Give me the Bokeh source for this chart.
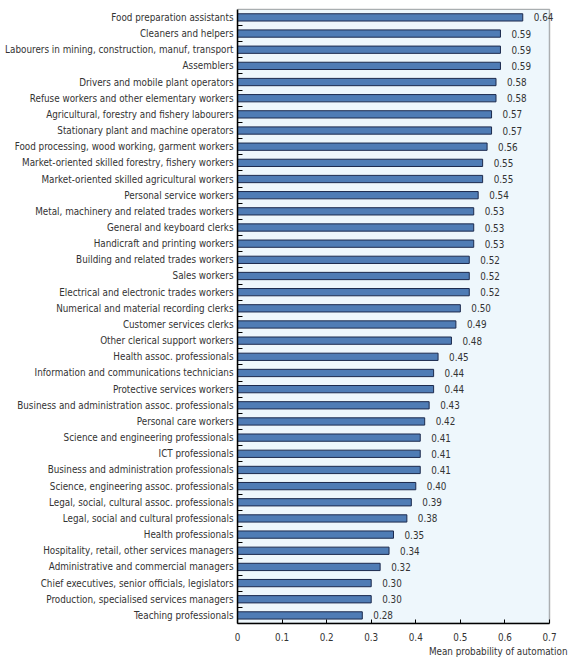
from bokeh.plotting import figure
from bokeh.models import ColumnDataSource, FixedTicker, Range1d, LabelSet, BoxAnnotation, Title
from bokeh.core.properties import value
from bokeh.embed import file_html
from bokeh.resources import INLINE

# occupations, top to bottom
occupations = [
    "Food preparation assistants",
    "Cleaners and helpers",
    "Labourers in mining, construction, manuf, transport",
    "Assemblers",
    "Drivers and mobile plant operators",
    "Refuse workers and other elementary workers",
    "Agricultural, forestry and fishery labourers",
    "Stationary plant and machine operators",
    "Food processing, wood working, garment workers",
    "Market-oriented skilled forestry, fishery workers",
    "Market-oriented skilled agricultural workers",
    "Personal service workers",
    "Metal, machinery and related trades workers",
    "General and keyboard clerks",
    "Handicraft and printing workers",
    "Building and related trades workers",
    "Sales workers",
    "Electrical and electronic trades workers",
    "Numerical and material recording clerks",
    "Customer services clerks",
    "Other clerical support workers",
    "Health assoc. professionals",
    "Information and communications technicians",
    "Protective services workers",
    "Business and administration assoc. professionals",
    "Personal care workers",
    "Science and engineering professionals",
    "ICT professionals",
    "Business and administration professionals",
    "Science, engineering assoc. professionals",
    "Legal, social, cultural assoc. professionals",
    "Legal, social and cultural professionals",
    "Health professionals",
    "Hospitality, retail, other services managers",
    "Administrative and commercial managers",
    "Chief executives, senior officials, legislators",
    "Production, specialised services managers",
    "Teaching professionals",
]

probability = [
    0.64, 0.59, 0.59, 0.59, 0.58, 0.58, 0.57, 0.57, 0.56, 0.55,
    0.55, 0.54, 0.53, 0.53, 0.53, 0.52, 0.52, 0.52, 0.50, 0.49,
    0.48, 0.45, 0.44, 0.44, 0.43, 0.42, 0.41, 0.41, 0.41, 0.40,
    0.39, 0.38, 0.35, 0.34, 0.32, 0.30, 0.30, 0.28,
]

x_ticks = [0, 0.1, 0.2, 0.3, 0.4, 0.5, 0.6, 0.7]
x_tick_labels = ["0", "0.1", "0.2", "0.3", "0.4", "0.5", "0.6", "0.7"]
x_max = 0.7

FONT = "DejaVu Sans Condensed"
TEXT = "#333333"
SIZE = "9.8px"

n = len(occupations)
ypos = [n - i - 0.5 for i in range(n)]

source = ColumnDataSource(dict(
    occ=occupations,
    val=probability,
    y=ypos,
    lab=["%.2f" % v for v in probability],
))

# the frame runs a little past 0.7 so that the value labels and the axis
# title can overhang the boxed area as in the original
p = figure(width=578, height=662, x_range=Range1d(0, 0.7404), y_range=Range1d(0, n + 0.05),
           output_backend="svg", toolbar_location=None,
           min_border_left=237, min_border_right=11, min_border_top=8, min_border_bottom=39)

p.background_fill_color = "white"
p.border_fill_color = "white"
p.outline_line_color = None
p.grid.visible = False

box = BoxAnnotation(left=0, right=x_max, bottom=0, top=n, fill_color="#eef7fc", fill_alpha=1,
                    line_color="black", line_width=1.5, level="underlay")
p.add_layout(box)

p.hbar(y="y", left=0, right="val", height=0.45, source=source,
       fill_color="#4f7cb5", line_color="#1c2a4d", line_width=1)

labels = LabelSet(x="val", y="y", text="lab", source=source, x_offset=11,
                  text_baseline="middle", text_font=value(FONT),
                  text_font_size=SIZE, text_color=TEXT)
p.add_layout(labels)

# y axis: names at bar centres, small ticks at the boundaries
p.yaxis.ticker = FixedTicker(ticks=ypos, minor_ticks=[float(k) for k in range(1, n)])
p.yaxis.major_label_overrides = {y: o for y, o in zip(ypos, occupations)}
p.yaxis.bounds = (0, n)
p.yaxis.major_tick_in = 0
p.yaxis.major_tick_out = 0
p.yaxis.minor_tick_in = 5
p.yaxis.minor_tick_out = 0
p.yaxis.minor_tick_line_color = "black"
p.yaxis.major_label_standoff = 4
p.yaxis.major_label_text_font = FONT
p.yaxis.major_label_text_font_size = SIZE
p.yaxis.major_label_text_color = TEXT
p.yaxis.axis_line_color = "black"
p.yaxis.axis_line_width = 1.5

# x axis
p.xaxis.ticker = FixedTicker(ticks=x_ticks, minor_ticks=[])
p.xaxis.major_label_overrides = {t: s for t, s in zip(x_ticks, x_tick_labels)}
p.xaxis.bounds = (0, x_max)
p.xaxis.major_tick_in = 4
p.xaxis.major_tick_out = 0
p.xaxis.major_tick_line_color = "black"
p.xaxis.major_label_standoff = 9
p.xaxis.major_label_text_font = FONT
p.xaxis.major_label_text_font_size = SIZE
p.xaxis.major_label_text_color = TEXT
p.xaxis.axis_line_color = "black"
p.xaxis.axis_line_width = 1.5

p.add_layout(Title(text="Mean probability of automation", align="right", standoff=0,
                   text_font=FONT, text_font_size=SIZE, text_font_style="normal",
                   text_color=TEXT), "below")

open("out.html", "w").write(file_html(p, INLINE))
